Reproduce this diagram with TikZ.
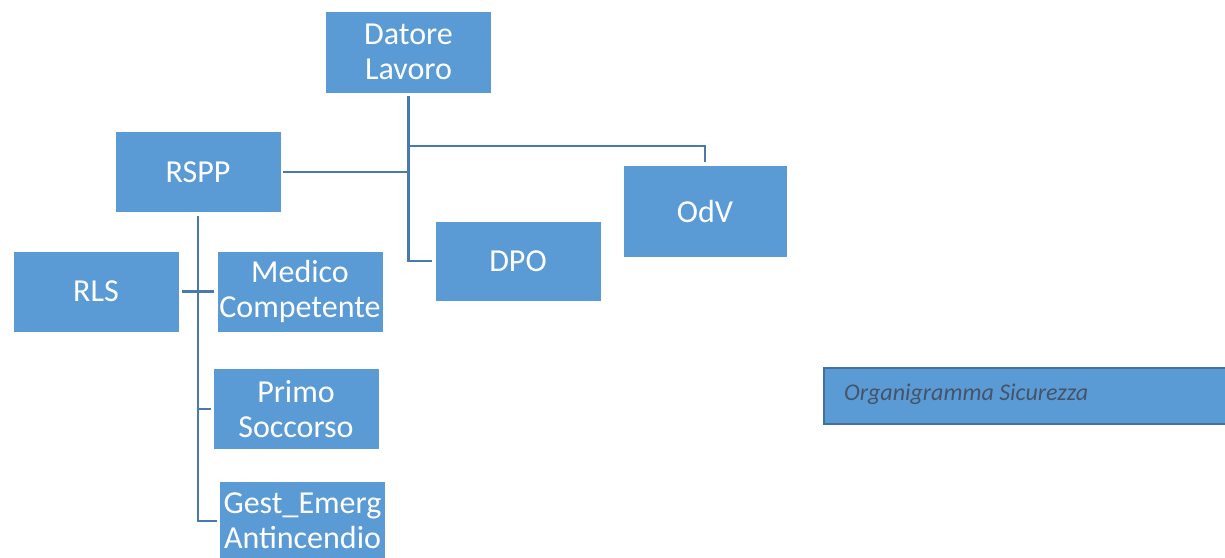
\documentclass[tikz,border=0pt]{standalone}
\usepackage{fontspec}
\setmainfont{Carlito}
\definecolor{boxblue}{RGB}{91,155,213}
\definecolor{connblue}{RGB}{72,122,172}
\definecolor{darkborder}{RGB}{65,113,156}
\definecolor{captxt}{RGB}{68,84,106}
\tikzset{
  orgbox/.style={rectangle, fill=boxblue, draw=white, line width=0.8pt, inner sep=0pt,
    text=white, align=center, font=\fontsize{32}{35}\selectfont},
  conn/.style={draw=connblue, line width=2.9pt},
}
\begin{document}
\begin{tikzpicture}[x=1pt,y=-1pt]
\useasboundingbox (0,0) rectangle (1225,557);
\node[orgbox, minimum width=166pt, minimum height=82pt] (dl) at (408.5,52) {Datore\\Lavoro};
\node[orgbox, minimum width=166pt, minimum height=81pt] (rspp) at (198,172) {RSPP};
\node[orgbox, minimum width=164pt, minimum height=92pt] (odv) at (705,211) {OdV};
\node[orgbox, minimum width=166pt, minimum height=80pt] (dpo) at (518,261) {DPO};
\node[orgbox, minimum width=166pt, minimum height=81pt] (rls) at (96,291.5) {RLS};
\node[orgbox, minimum width=166pt, minimum height=81pt] (med) at (300,291.5) {Medico\\Competente};
\node[orgbox, minimum width=166pt, minimum height=81pt] (primo) at (296,409) {Primo\\Soccorso};
\node[orgbox, minimum width=166pt, minimum height=80pt] (gest) at (302.5,521) {Gest\_Emerg\\Antincendio};
\coordinate (jodv) at (408,146);
\draw[conn] ([yshift=-3pt]dl.south) -- (dl.south |- dpo.west) -- ([xshift=-3pt]dpo.west);
\draw[conn] ([xshift=2pt]rspp.east) -- (rspp.east -| dl.south);
\draw[conn] (jodv) -| ([yshift=3pt]odv.north);
\draw[conn] ([yshift=-3pt]rspp.south) -- (rspp.south |- gest.west) -- ([xshift=-2pt]gest.west);
\draw[conn] ([xshift=3pt]rls.east) -- ([xshift=-3pt]med.west);
\draw[conn] (rspp.south |- primo.west) -- ([xshift=-2pt]primo.west);
\node[rectangle, fill=boxblue, draw=darkborder, line width=2pt, inner sep=0pt,
  minimum width=410pt, minimum height=56pt, anchor=north west] (cap) at (823,367) {};
\node[anchor=west, text=captxt, font=\fontsize{24}{28}\selectfont\itshape, inner sep=0pt] (captxt) at (844,394) {Organigramma Sicurezza};
\end{tikzpicture}
\end{document}
